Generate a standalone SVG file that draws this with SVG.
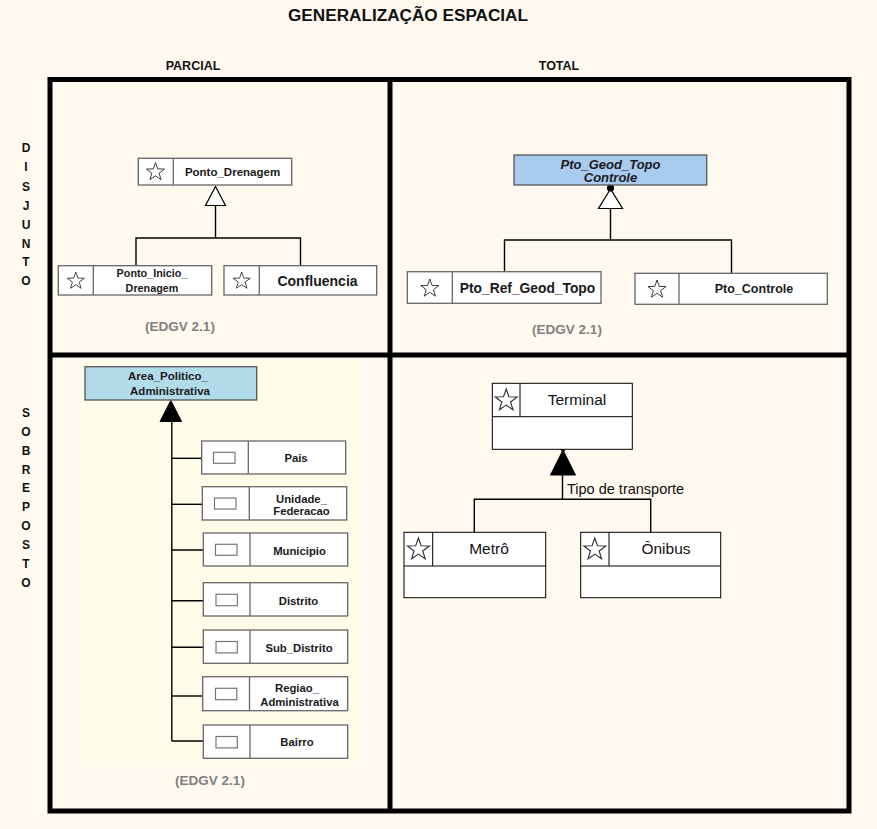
<svg xmlns="http://www.w3.org/2000/svg" width="877" height="829" viewBox="0 0 877 829">
<defs>
<style>
.bg{fill:#FFF9EF}
.grid{fill:none;stroke:#000;stroke-width:5}
.hdr{font-family:"Liberation Sans",Arial,sans-serif;font-weight:bold;fill:#111}
.side{font-family:"Liberation Sans",Arial,sans-serif;font-weight:bold;font-size:12px;fill:#111;text-anchor:middle}
.edgv{font-family:"Liberation Sans",Arial,sans-serif;font-weight:bold;font-size:13.5px;fill:#7F7F7F;text-anchor:middle}
.box{fill:#fff;stroke:#666;stroke-width:1.3}
.boxk{fill:#fff;stroke:#000;stroke-width:1}
.sep{stroke:#666;stroke-width:1.3}
.sepk{stroke:#000;stroke-width:1}
.t{font-family:"Liberation Sans",Arial,sans-serif;font-weight:bold;fill:#1a1a1a;text-anchor:middle}
.tr{font-family:"Liberation Sans",Arial,sans-serif;fill:#111;text-anchor:middle;font-size:15.5px}
.star{fill:none;stroke:#333;stroke-width:1}
.icon{fill:#fff;stroke:#777;stroke-width:1.2}
.con{fill:none;stroke:#000;stroke-width:1.4}
.hollow{fill:#fff;stroke:#000;stroke-width:1.2}
.solid{fill:#000;stroke:#000;stroke-width:1}
</style>
<path id="star" d="M0,-10 L2.35,-3.24 L9.51,-3.09 L3.80,1.24 L5.88,8.09 L0,4 L-5.88,8.09 L-3.80,1.24 L-9.51,-3.09 L-2.35,-3.24 Z"/>
</defs>
<rect class="bg" x="0" y="0" width="877" height="829"/>
<rect x="82" y="360" width="277" height="402" fill="#FFFDEA"/>

<g id="titles">
<text class="hdr" x="408" y="21" font-size="16" text-anchor="middle" textLength="240" lengthAdjust="spacingAndGlyphs">GENERALIZAÇÃO  ESPACIAL</text>
<text class="hdr" x="193" y="69.5" font-size="12.5" text-anchor="middle">PARCIAL</text>
<text class="hdr" x="559" y="69.5" font-size="12.5" text-anchor="middle">TOTAL</text>
</g>
<g id="side-disjunto">
<text class="side" x="26" y="151.5">D</text>
<text class="side" x="26" y="171">I</text>
<text class="side" x="26" y="191">S</text>
<text class="side" x="26" y="209.5">J</text>
<text class="side" x="26" y="228.5">U</text>
<text class="side" x="26" y="247.5">N</text>
<text class="side" x="26" y="266">T</text>
<text class="side" x="26" y="284.5">O</text>
</g>
<g id="side-sobreposto">
<text class="side" x="26" y="417">S</text>
<text class="side" x="26" y="435.5">O</text>
<text class="side" x="26" y="454.5">B</text>
<text class="side" x="26" y="473.5">R</text>
<text class="side" x="26" y="492">E</text>
<text class="side" x="26" y="511">P</text>
<text class="side" x="26" y="529.5">O</text>
<text class="side" x="26" y="548.5">S</text>
<text class="side" x="26" y="567.5">T</text>
<text class="side" x="26" y="586.5">O</text>
</g>
<g id="grid">
<rect class="grid" x="50" y="79.5" width="799" height="731.5"/>
<line class="grid" x1="390" y1="79.5" x2="390" y2="811"/>
<line class="grid" x1="50" y1="355" x2="849" y2="355"/>
</g>

<g id="connectors">
<polyline class="con" points="215.5,205.5 215.5,238"/>
<polyline class="con" points="136,265.5 136,238 300.5,238 300.5,265.5"/>
<polygon class="hollow" points="215.5,186.5 205.5,205.5 225.5,205.5"/>
<polyline class="con" points="610.5,208.5 610.5,240"/>
<polyline class="con" points="504.5,272 504.5,240 731.5,240 731.5,273.5"/>
<polygon class="hollow" points="610.5,189 598.5,208.5 622.5,208.5"/>
<circle cx="610.5" cy="188" r="3.6" fill="#000"/>
<polyline class="con" points="171.8,421 171.8,741"/>
<line class="con" x1="171.8" y1="458.3" x2="201.7" y2="458.3"/>
<line class="con" x1="171.8" y1="504.3" x2="202.3" y2="504.3"/>
<line class="con" x1="171.8" y1="550" x2="203.3" y2="550"/>
<line class="con" x1="171.8" y1="600.7" x2="203.3" y2="600.7"/>
<line class="con" x1="171.8" y1="647.3" x2="203.3" y2="647.3"/>
<line class="con" x1="171.8" y1="696" x2="202.7" y2="696"/>
<line class="con" x1="171.8" y1="741" x2="203.3" y2="741"/>
<polygon class="solid" points="170.8,400.5 160,421.5 181.6,421.5"/>
<polyline class="con" points="562.5,475 562.5,499.3"/>
<polyline class="con" points="474.3,532.3 474.3,499.3 650.7,499.3 650.7,532.3"/>
<polygon class="solid" points="563,450 550.5,475 575.5,475"/>
<circle cx="563" cy="449.3" r="2.3" fill="#000"/>
<text x="567" y="494" font-family="Liberation Sans, Arial, sans-serif" font-size="14.5" fill="#111">Tipo de transporte</text>
</g>

<g id="ponto-drenagem">
<rect class="box" x="138.3" y="158.3" width="153.4" height="26.7"/>
<line class="sep" x1="173.3" y1="158.3" x2="173.3" y2="185"/>
<use href="#star" class="star" transform="translate(155.5,172) scale(0.95)"/>
<text class="t" x="232.5" y="175.5" font-size="11.5">Ponto_Drenagem</text>
</g>
<g id="ponto-inicio-drenagem">
<rect class="box" x="58.3" y="265.7" width="153.4" height="29.3"/>
<line class="sep" x1="93.3" y1="265.7" x2="93.3" y2="295"/>
<use href="#star" class="star" transform="translate(75.8,281) scale(0.9)"/>
<text class="t" x="152" y="276.5" font-size="10.8">Ponto_Inicio_</text>
<text class="t" x="152" y="291.5" font-size="10.8">Drenagem</text>
</g>
<g id="confluencia">
<rect class="box" x="224" y="265.7" width="152.7" height="29.3"/>
<line class="sep" x1="259.3" y1="265.7" x2="259.3" y2="295"/>
<use href="#star" class="star" transform="translate(241.7,281) scale(0.9)"/>
<text class="t" x="317.5" y="285.5" font-size="14">Confluencia</text>
</g>
<text class="edgv" x="180" y="331">(EDGV 2.1)</text>

<g id="pto-geod-topo-controle">
<rect x="514" y="155" width="192.7" height="30" fill="#A9CBF0" stroke="#555" stroke-width="1.3"/>
<text class="t" x="610.5" y="168.5" font-size="13" font-style="italic">Pto_Geod_Topo</text>
<text class="t" x="610.5" y="182" font-size="13" font-style="italic">Controle</text>
</g>
<g id="pto-ref-geod-topo">
<rect class="box" x="407.3" y="271.7" width="193.7" height="31.6"/>
<line class="sep" x1="452.3" y1="271.7" x2="452.3" y2="303.3"/>
<use href="#star" class="star" transform="translate(429.8,288.5) scale(0.95)"/>
<text class="t" x="527.5" y="293" font-size="13.8">Pto_Ref_Geod_Topo</text>
</g>
<g id="pto-controle">
<rect class="box" x="635" y="273.3" width="192.3" height="31"/>
<line class="sep" x1="679" y1="273.3" x2="679" y2="304.3"/>
<use href="#star" class="star" transform="translate(657,289.5) scale(0.95)"/>
<text class="t" x="754" y="293" font-size="12.5">Pto_Controle</text>
</g>
<text class="edgv" x="567" y="334">(EDGV 2.1)</text>

<g id="area-politico-administrativa">
<rect x="85" y="366.7" width="171.7" height="33.3" fill="#B2DCEA" stroke="#555" stroke-width="1.3"/>
<text class="t" x="168" y="380" font-size="11.5">Area_Politico_</text>
<text class="t" x="170" y="394.5" font-size="11.5">Administrativa</text>
</g>
<g id="pais">
<rect class="box" x="201.7" y="441" width="144" height="33"/>
<line class="sep" x1="248.3" y1="441" x2="248.3" y2="474"/>
<rect class="icon" x="213.5" y="452.3" width="21.5" height="11"/>
<text class="t" x="296" y="462" font-size="11.3">Pais</text>
</g>
<g id="unidade-federacao">
<rect class="box" x="202.3" y="486.7" width="144.4" height="33.3"/>
<line class="sep" x1="249.3" y1="486.7" x2="249.3" y2="520"/>
<rect class="icon" x="214.5" y="498" width="21.5" height="11"/>
<text class="t" x="301.5" y="502.5" font-size="11.3">Unidade_</text>
<text class="t" x="301.5" y="515" font-size="11.3">Federacao</text>
</g>
<g id="municipio">
<rect class="box" x="203.3" y="533" width="144.4" height="33"/>
<line class="sep" x1="250" y1="533" x2="250" y2="566"/>
<rect class="icon" x="215.5" y="544.3" width="21.5" height="11"/>
<text class="t" x="299.5" y="555" font-size="11.3">Municipio</text>
</g>
<g id="distrito">
<rect class="box" x="203.3" y="582.7" width="144.4" height="33.3"/>
<line class="sep" x1="250" y1="582.7" x2="250" y2="616"/>
<rect class="icon" x="216" y="594.3" width="21.3" height="11.4"/>
<text class="t" x="298.5" y="604.5" font-size="11.3">Distrito</text>
</g>
<g id="sub-distrito">
<rect class="box" x="203.3" y="630" width="144.4" height="33.3"/>
<line class="sep" x1="250" y1="630" x2="250" y2="663.3"/>
<rect class="icon" x="216" y="641.5" width="21.3" height="11.4"/>
<text class="t" x="299" y="651.5" font-size="11.3">Sub_Distrito</text>
</g>
<g id="regiao-administrativa">
<rect class="box" x="202.7" y="676.7" width="145" height="34"/>
<line class="sep" x1="249.5" y1="676.7" x2="249.5" y2="710.7"/>
<rect class="icon" x="215.5" y="688.3" width="21.3" height="11.4"/>
<text class="t" x="297" y="691.5" font-size="11.3">Regiao_</text>
<text class="t" x="299.5" y="706" font-size="11.3">Administrativa</text>
</g>
<g id="bairro">
<rect class="box" x="203.3" y="725" width="144.4" height="33.3"/>
<line class="sep" x1="250" y1="725" x2="250" y2="758.3"/>
<rect class="icon" x="216" y="736.5" width="21.3" height="11.4"/>
<text class="t" x="297" y="746" font-size="11.3">Bairro</text>
</g>
<text class="edgv" x="210" y="785">(EDGV 2.1)</text>

<g id="terminal">
<rect class="boxk" x="492.3" y="383.3" width="140" height="66"/>
<line class="sepk" x1="492.3" y1="416.7" x2="632.3" y2="416.7"/>
<line class="sepk" x1="520" y1="383.3" x2="520" y2="416.7"/>
<use href="#star" class="star" transform="translate(506.2,400.5) scale(1.15)"/>
<text class="tr" x="577" y="405">Terminal</text>
</g>
<g id="metro">
<rect class="boxk" x="404" y="532.3" width="141.7" height="65.4"/>
<line class="sepk" x1="404" y1="566" x2="545.7" y2="566"/>
<line class="sepk" x1="432.7" y1="532.3" x2="432.7" y2="566"/>
<use href="#star" class="star" transform="translate(418.4,549.5) scale(1.15)"/>
<text class="tr" x="489" y="554">Metrô</text>
</g>
<g id="onibus">
<rect class="boxk" x="580.7" y="532.3" width="140" height="65.4"/>
<line class="sepk" x1="580.7" y1="566" x2="720.7" y2="566"/>
<line class="sepk" x1="609" y1="532.3" x2="609" y2="566"/>
<use href="#star" class="star" transform="translate(594.8,549.5) scale(1.15)"/>
<text class="tr" x="666" y="554">Ônibus</text>
</g>
</svg>
